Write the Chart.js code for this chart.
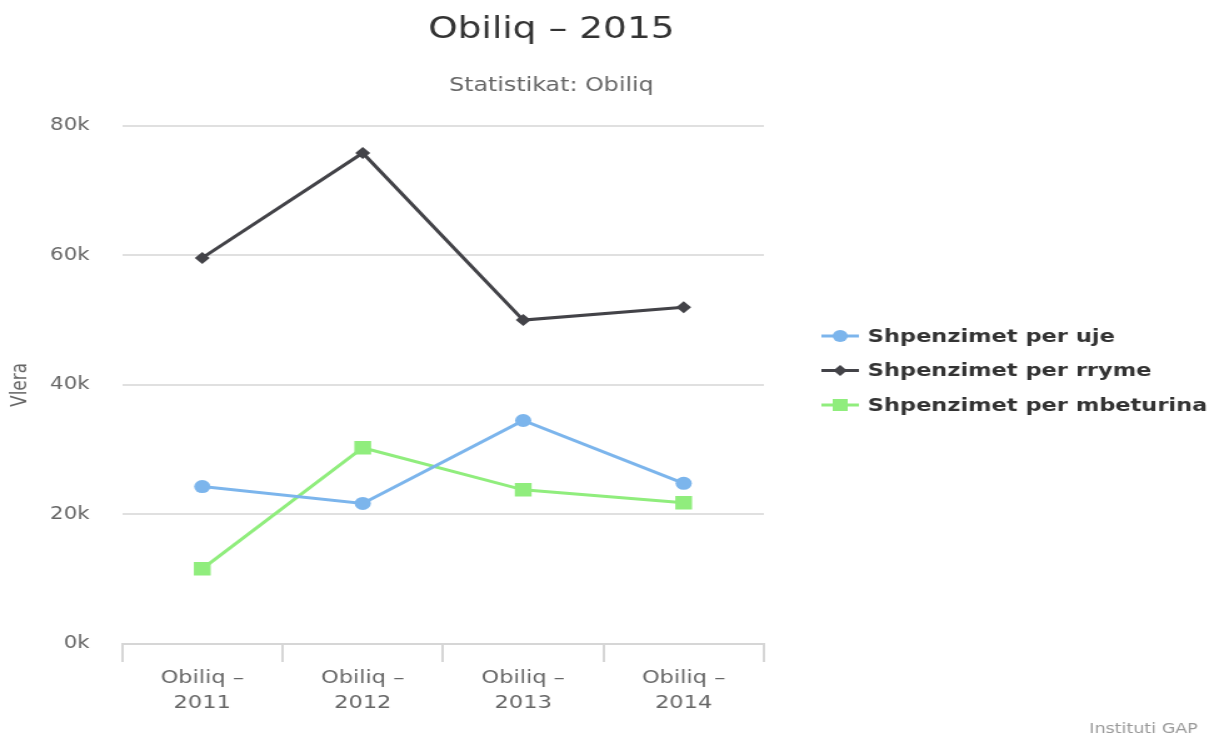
<!DOCTYPE html>
<html>
<head>
<meta charset="utf-8">
<script src="https://cdn.jsdelivr.net/npm/chart.js@4/dist/chart.umd.min.js"></script>
<style>
  html, body { margin: 0; padding: 0; background: #fff; }
  #chart { display: block; }
</style>
</head>
<body>
<!-- the reference picture is stretched sideways, so the canvas is too -->
<canvas id="chart" width="975" height="738" style="width:1219px;height:738px"></canvas>
<script>
// data
var categories = [['Obiliq –', '2011'], ['Obiliq –', '2012'], ['Obiliq –', '2013'], ['Obiliq –', '2014']];
var seriesNames = ['Shpenzimet per uje', 'Shpenzimet per rryme', 'Shpenzimet per mbeturina'];
var ujeValues = [24300, 21700, 34500, 24800];
var rrymeValues = [59600, 75800, 50000, 52000];
var mbeturinaValues = [11600, 30300, 23800, 21800];
var yTicks = [0, 20000, 40000, 60000, 80000];

var colors = ['#7cb5ec', '#434348', '#90ed7d'];
var markers = ['circle', 'rectRot', 'rect'];
var markerSizes = [6.5, 6, 9.5];
var fontFamily = '"DejaVu Sans", Verdana, sans-serif';

function makeDataset(i, values) {
    return {
        label: seriesNames[i],
        data: values,
        yAxisID: 'y',
        borderColor: colors[i],
        backgroundColor: colors[i],
        borderWidth: 3,
        pointStyle: markers[i],
        pointRadius: markerSizes[i],
        pointHoverRadius: markerSizes[i],
        pointBorderWidth: 0,
        tension: 0
    };
}

// legend with line + marker, and the credits text
var extrasPlugin = {
    id: 'extras',
    afterDraw: function(chart) {
        var ctx = chart.ctx;
        ctx.save();
        chart.data.datasets.forEach(function(ds, i) {
            var y = 336 + i * 34.5;
            ctx.strokeStyle = ds.borderColor;
            ctx.lineWidth = 3;
            ctx.beginPath();
            ctx.moveTo(657, y);
            ctx.lineTo(687, y);
            ctx.stroke();
            ctx.fillStyle = ds.backgroundColor;
            ctx.beginPath();
            if (ds.pointStyle == 'circle') {
                ctx.arc(672, y, 6, 0, Math.PI * 2);
            } else if (ds.pointStyle == 'rectRot') {
                ctx.moveTo(672, y - 5.5);
                ctx.lineTo(677.5, y);
                ctx.lineTo(672, y + 5.5);
                ctx.lineTo(666.5, y);
                ctx.closePath();
            } else {
                ctx.rect(666, y - 6, 12, 12);
            }
            ctx.fill();
            ctx.fillStyle = '#333333';
            ctx.font = 'bold 18px ' + fontFamily;
            ctx.textBaseline = 'middle';
            ctx.textAlign = 'left';
            ctx.fillText(ds.label, 694, y + 1);
        });
        ctx.fillStyle = '#999999';
        ctx.font = '14px ' + fontFamily;
        ctx.textAlign = 'right';
        ctx.textBaseline = 'middle';
        ctx.fillText('Instituti GAP', 958, 729);
        ctx.restore();
    }
};

var config = {
    type: 'line',
    data: {
        labels: categories,
        datasets: [
            makeDataset(0, ujeValues),
            makeDataset(1, rrymeValues),
            makeDataset(2, mbeturinaValues)
        ]
    },
    options: {
        responsive: false,
        devicePixelRatio: 1,
        animation: false,
        layout: {
            padding: { top: 0, right: 93, bottom: 18, left: 0 }
        },
        plugins: {
            legend: { display: false },
            tooltip: { enabled: false },
            title: {
                display: true,
                text: 'Obiliq – 2015',
                color: '#333333',
                font: { family: fontFamily, size: 30, weight: 'normal' },
                padding: { top: 12, bottom: 1 }
            },
            subtitle: {
                display: true,
                text: 'Statistikat: Obiliq',
                color: '#666666',
                font: { family: fontFamily, size: 19, weight: 'normal' },
                padding: { top: 26, bottom: 28 }
            }
        },
        scales: {
            x: {
                offset: true,
                grid: {
                    offset: true,
                    drawOnChartArea: false,
                    drawTicks: true,
                    tickLength: 18,
                    color: '#d6d6d6',
                    lineWidth: 2
                },
                border: { display: true, color: '#d6d6d6', width: 2 },
                ticks: {
                    color: '#666666',
                    font: { family: fontFamily, size: 18, lineHeight: 1.39 },
                    padding: 4,
                    maxRotation: 0
                }
            },
            y: {
                min: 0,
                max: 80000,
                afterBuildTicks: function(scale) {
                    scale.ticks = yTicks.map(function(v) { return { value: v }; });
                },
                afterFit: function(scale) { scale.width = 97.6; },
                grid: {
                    color: '#e0e0e0',
                    lineWidth: 2,
                    drawTicks: false
                },
                border: { display: false },
                ticks: {
                    color: '#666666',
                    font: { family: fontFamily, size: 17 },
                    padding: 26,
                    callback: function(v) { return (v / 1000) + 'k'; }
                },
                title: {
                    display: true,
                    text: 'Vlera',
                    color: '#666666',
                    font: { family: fontFamily, size: 17 },
                    padding: { top: 6.5, bottom: 0 }
                }
            },
            // empty axis that keeps room on the right for the legend
            room: {
                type: 'linear',
                position: 'right',
                grid: { drawOnChartArea: false, drawTicks: false },
                border: { display: false },
                ticks: { display: false },
                afterFit: function(scale) { scale.width = 271; }
            }
        }
    },
    plugins: [extrasPlugin]
};

var chart = new Chart(document.getElementById('chart'), config);
</script>
</body>
</html>
